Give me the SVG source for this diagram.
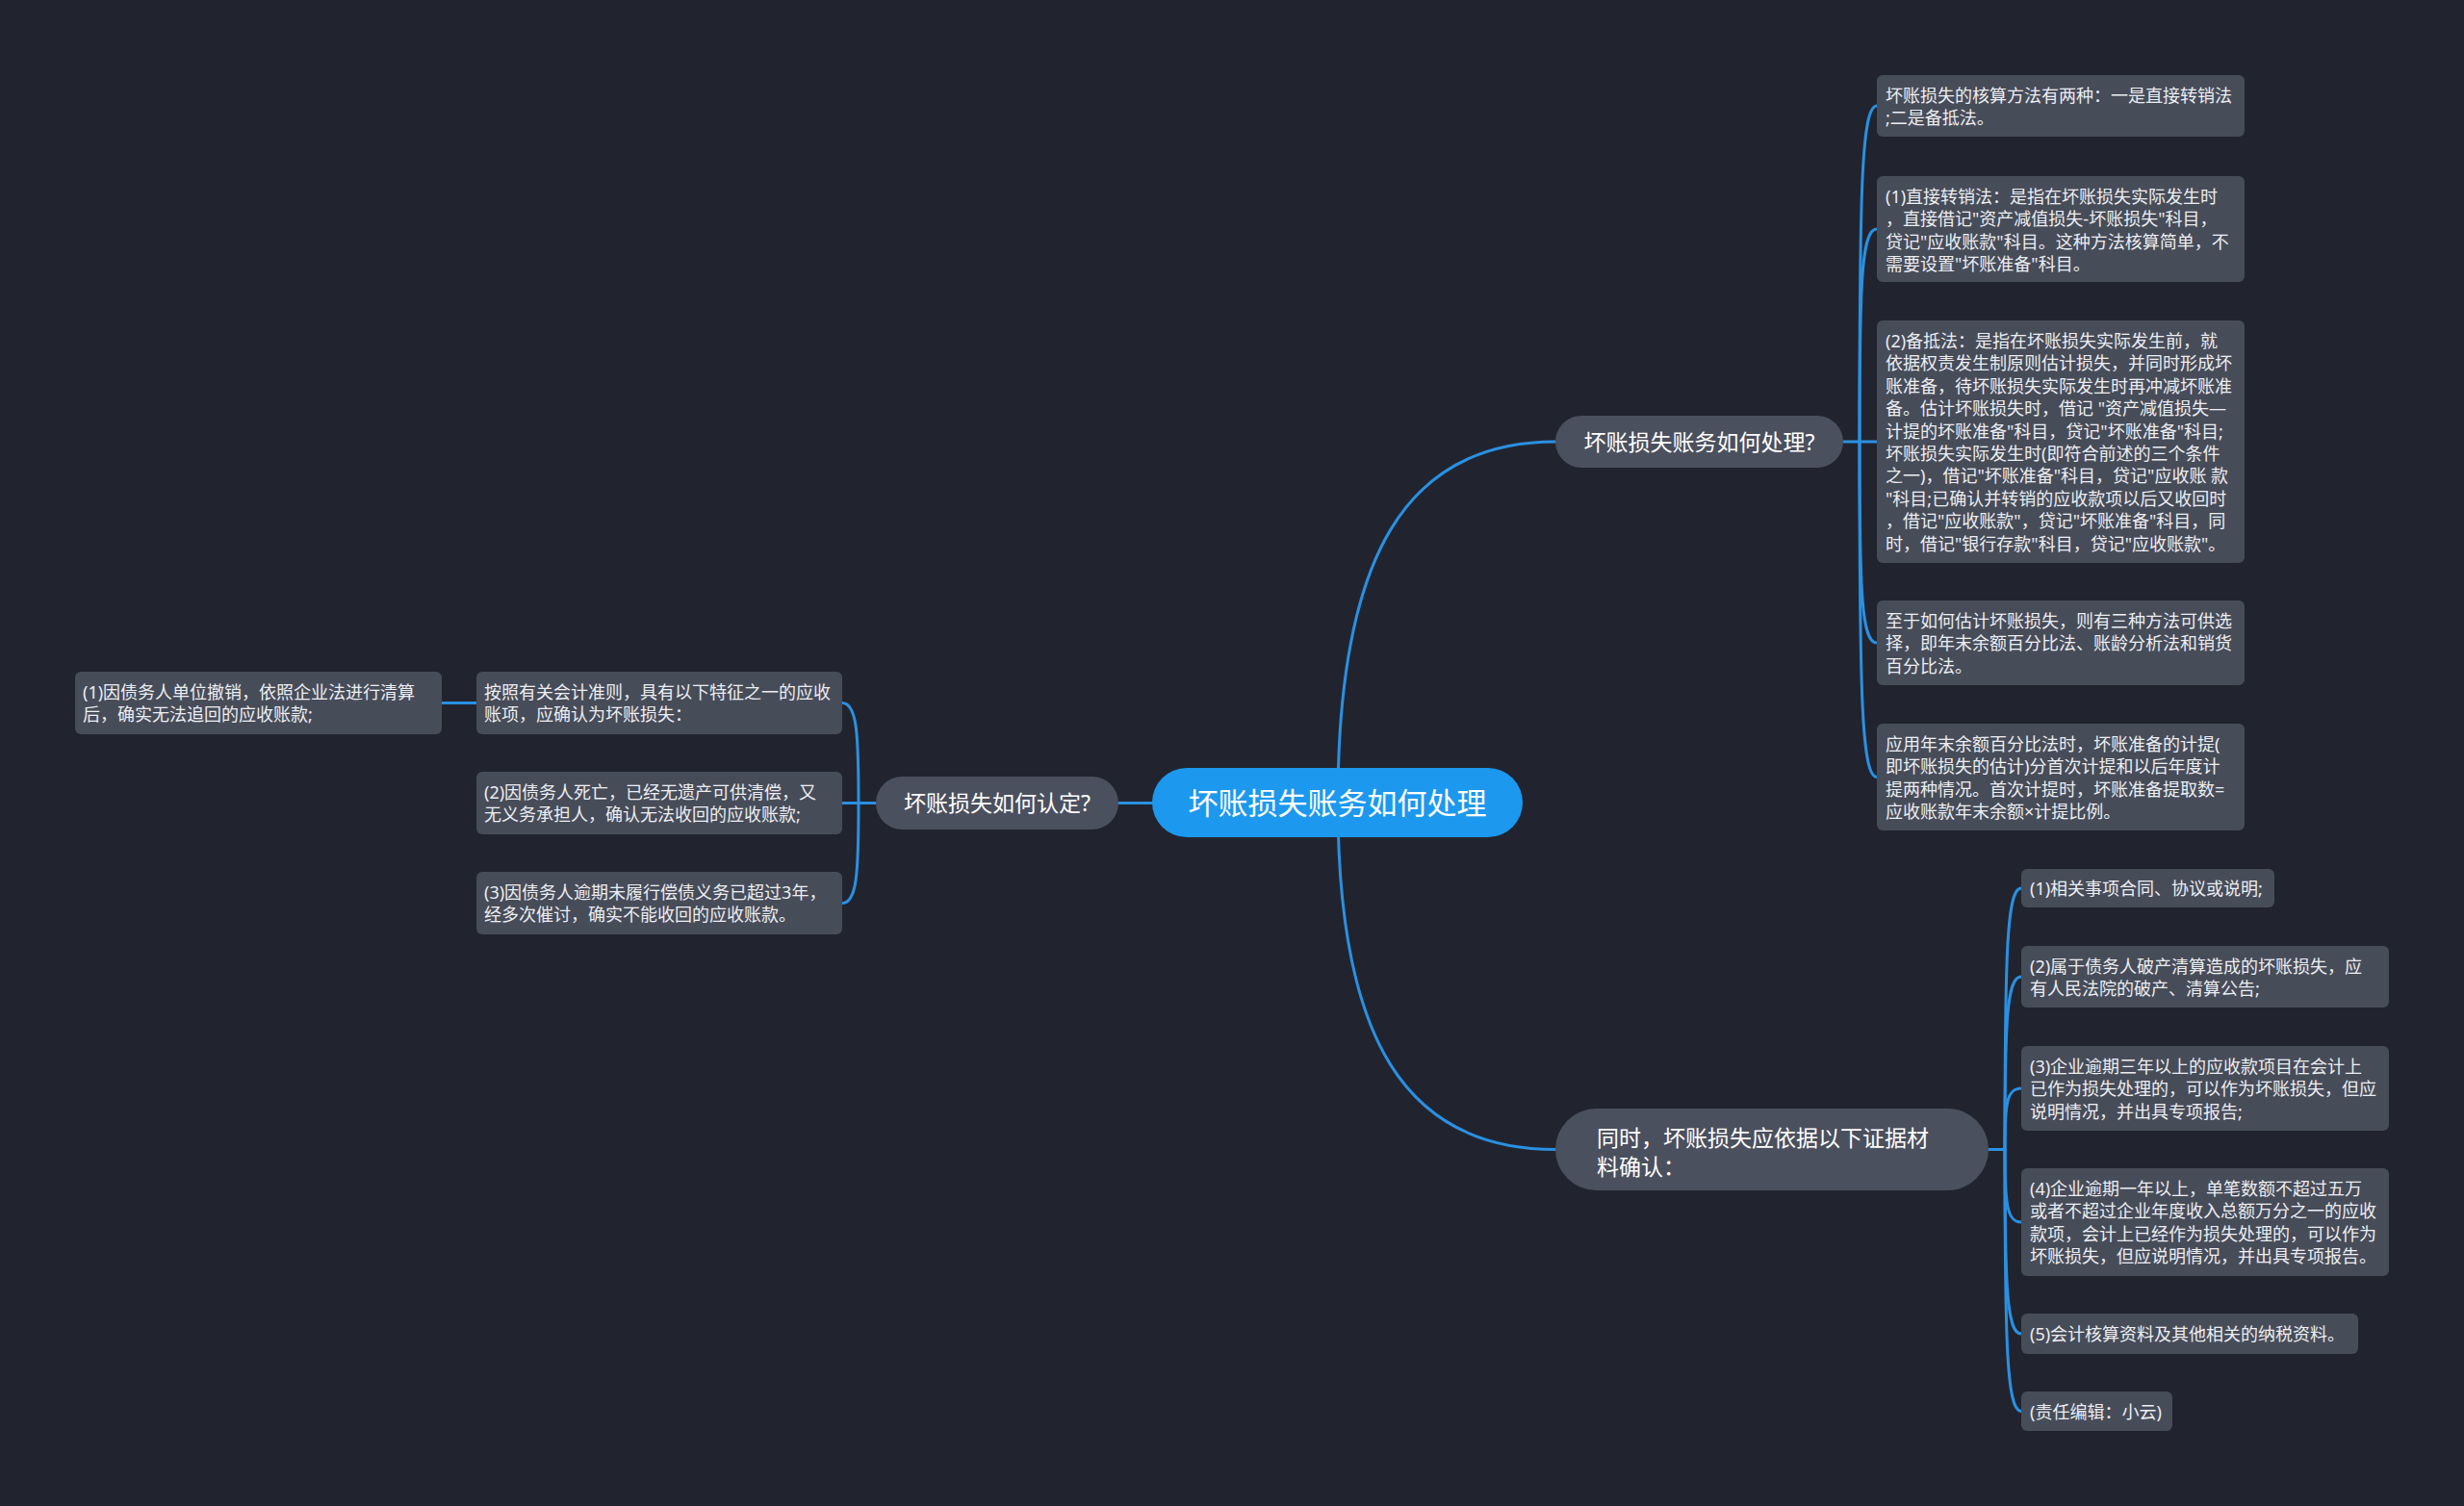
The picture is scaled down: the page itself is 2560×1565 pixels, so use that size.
<svg xmlns="http://www.w3.org/2000/svg" width="2560" height="1565" viewBox="0 0 2560 1565">
<style>
.bg{fill:#21242e}
.root{fill:#1c98ef}
.sub{fill:#4b505e}
.leaf{fill:#474c59}
.ln{fill:none;stroke:#2a90e2;stroke-width:3;stroke-linecap:round}
.t{font-family:"Noto Sans","Noto Sans CJK SC",sans-serif;fill:#ffffff}
.rt{font-size:31px}
.st{font-size:23px}
.lt{font-size:18px;fill:#eceef2}
</style>
<rect class="bg" x="0" y="0" width="2560" height="1565"/>
<g id="connectors">
<path class="ln" d="M1197,834.5 L1162,834.5"/>
<path class="ln" d="M1390,834 C1390,579 1460,459 1616,459"/>
<path class="ln" d="M1390,834 C1390,1079 1460,1194.5 1616,1194.5"/>
<path class="ln" d="M910,834.5 L892,834.5"/>
<path class="ln" d="M892,834.5 C892,760 890,730.5 875,730.5"/>
<path class="ln" d="M892,834.5 L875,834.5"/>
<path class="ln" d="M892,834.5 C892,909 890,938.5 875,938.5"/>
<path class="ln" d="M495,730.5 L459,730.5"/>
<path class="ln" d="M1915,459 L1950,459"/>
<path class="ln" d="M1932,459 C1932,197 1934,110 1950,110"/>
<path class="ln" d="M1932,459 C1932,293 1934,238 1950,238"/>
<path class="ln" d="M1932,459 C1932,616 1934,668 1950,668"/>
<path class="ln" d="M1932,459 C1932,720 1934,807.5 1950,807.5"/>
<path class="ln" d="M2066,1194.5 L2083,1194.5"/>
<path class="ln" d="M2083,1194.5 C2083,991 2085,923 2100,923"/>
<path class="ln" d="M2083,1194.5 C2083,1060 2085,1015 2100,1015"/>
<path class="ln" d="M2083,1194.5 C2083,1146 2085,1131 2100,1131"/>
<path class="ln" d="M2083,1194.5 C2083,1251 2085,1270 2100,1270"/>
<path class="ln" d="M2083,1194.5 C2083,1339 2085,1386 2100,1386"/>
<path class="ln" d="M2083,1194.5 C2083,1399 2085,1466.5 2100,1466.5"/>
</g>
<g id="root">
<rect class="root" x="1197" y="798" width="385" height="72" rx="36"/>
<text class="t rt" x="1389.5" y="846" text-anchor="middle">坏账损失账务如何处理</text>
</g>
<g id="n-rendi">
<rect class="sub" x="910" y="807" width="252" height="55" rx="27.5"/>
<text class="t st" x="1036" y="843" text-anchor="middle">坏账损失如何认定?</text>
</g>
<g id="n-chuli">
<rect class="sub" x="1616" y="432" width="299" height="54" rx="27"/>
<text class="t st" x="1765.5" y="467.5" text-anchor="middle">坏账损失账务如何处理?</text>
</g>
<g id="n-zhengju">
<rect class="sub" x="1616" y="1152" width="450" height="85" rx="42.5"/>
<text class="t st"><tspan x="1659" y="1191">同时，坏账损失应依据以下证据材</tspan><tspan x="1659" y="1221">料确认：</tspan></text>
</g>
<g id="l-a1">
<rect class="leaf" x="495" y="698" width="380" height="65" rx="6"/>
<text class="t lt"><tspan x="503" y="726">按照有关会计准则，具有以下特征之一的应收</tspan><tspan x="503" y="749.4">账项，应确认为坏账损失：</tspan></text>
</g>
<g id="l-a1-1">
<rect class="leaf" x="78" y="698" width="381" height="65" rx="6"/>
<text class="t lt"><tspan x="86" y="726">(1)因债务人单位撤销，依照企业法进行清算</tspan><tspan x="86" y="749.4">后，确实无法追回的应收账款;</tspan></text>
</g>
<g id="l-a2">
<rect class="leaf" x="495" y="802" width="380" height="65" rx="6"/>
<text class="t lt"><tspan x="503" y="830">(2)因债务人死亡，已经无遗产可供清偿，又</tspan><tspan x="503" y="853.4">无义务承担人，确认无法收回的应收账款;</tspan></text>
</g>
<g id="l-a3">
<rect class="leaf" x="495" y="906" width="380" height="65" rx="6"/>
<text class="t lt"><tspan x="503" y="934">(3)因债务人逾期未履行偿债义务已超过3年，</tspan><tspan x="503" y="957.4">经多次催讨，确实不能收回的应收账款。</tspan></text>
</g>
<g id="l-b1">
<rect class="leaf" x="1950" y="78" width="382" height="64" rx="6"/>
<text class="t lt"><tspan x="1959" y="106">坏账损失的核算方法有两种：一是直接转销法</tspan><tspan x="1959" y="129.4">;二是备抵法。</tspan></text>
</g>
<g id="l-b2">
<rect class="leaf" x="1950" y="183" width="382" height="110" rx="6"/>
<text class="t lt"><tspan x="1959" y="211">(1)直接转销法：是指在坏账损失实际发生时</tspan><tspan x="1959" y="234.4">，直接借记"资产减值损失-坏账损失"科目，</tspan><tspan x="1959" y="257.8">贷记"应收账款"科目。这种方法核算简单，不</tspan><tspan x="1959" y="281.2">需要设置"坏账准备"科目。</tspan></text>
</g>
<g id="l-b3">
<rect class="leaf" x="1950" y="333" width="382" height="252" rx="6"/>
<text class="t lt"><tspan x="1959" y="361">(2)备抵法：是指在坏账损失实际发生前，就</tspan><tspan x="1959" y="384.4">依据权责发生制原则估计损失，并同时形成坏</tspan><tspan x="1959" y="407.8">账准备，待坏账损失实际发生时再冲减坏账准</tspan><tspan x="1959" y="431.2">备。估计坏账损失时，借记 "资产减值损失—</tspan><tspan x="1959" y="454.6">计提的坏账准备"科目，贷记"坏账准备"科目;</tspan><tspan x="1959" y="478">坏账损失实际发生时(即符合前述的三个条件</tspan><tspan x="1959" y="501.4">之一)，借记"坏账准备"科目，贷记"应收账 款</tspan><tspan x="1959" y="524.8">"科目;已确认并转销的应收款项以后又收回时</tspan><tspan x="1959" y="548.2">，借记"应收账款"，贷记"坏账准备"科目，同</tspan><tspan x="1959" y="571.6">时，借记"银行存款"科目，贷记"应收账款"。</tspan></text>
</g>
<g id="l-b4">
<rect class="leaf" x="1950" y="624" width="382" height="88" rx="6"/>
<text class="t lt"><tspan x="1959" y="652">至于如何估计坏账损失，则有三种方法可供选</tspan><tspan x="1959" y="675.4">择，即年末余额百分比法、账龄分析法和销货</tspan><tspan x="1959" y="698.8">百分比法。</tspan></text>
</g>
<g id="l-b5">
<rect class="leaf" x="1950" y="752" width="382" height="111" rx="6"/>
<text class="t lt"><tspan x="1959" y="780">应用年末余额百分比法时，坏账准备的计提(</tspan><tspan x="1959" y="803.4">即坏账损失的估计)分首次计提和以后年度计</tspan><tspan x="1959" y="826.8">提两种情况。首次计提时，坏账准备提取数=</tspan><tspan x="1959" y="850.2">应收账款年末余额×计提比例。</tspan></text>
</g>
<g id="l-c1">
<rect class="leaf" x="2100" y="903" width="263" height="40" rx="6"/>
<text class="t lt"><tspan x="2109" y="930">(1)相关事项合同、协议或说明;</tspan></text>
</g>
<g id="l-c2">
<rect class="leaf" x="2100" y="983" width="382" height="64" rx="6"/>
<text class="t lt"><tspan x="2109" y="1011">(2)属于债务人破产清算造成的坏账损失，应</tspan><tspan x="2109" y="1034.4">有人民法院的破产、清算公告;</tspan></text>
</g>
<g id="l-c3">
<rect class="leaf" x="2100" y="1087" width="382" height="88" rx="6"/>
<text class="t lt"><tspan x="2109" y="1115">(3)企业逾期三年以上的应收款项目在会计上</tspan><tspan x="2109" y="1138.4">已作为损失处理的，可以作为坏账损失，但应</tspan><tspan x="2109" y="1161.8">说明情况，并出具专项报告;</tspan></text>
</g>
<g id="l-c4">
<rect class="leaf" x="2100" y="1214" width="382" height="112" rx="6"/>
<text class="t lt"><tspan x="2109" y="1242">(4)企业逾期一年以上，单笔数额不超过五万</tspan><tspan x="2109" y="1265.4">或者不超过企业年度收入总额万分之一的应收</tspan><tspan x="2109" y="1288.8">款项，会计上已经作为损失处理的，可以作为</tspan><tspan x="2109" y="1312.2">坏账损失，但应说明情况，并出具专项报告。</tspan></text>
</g>
<g id="l-c5">
<rect class="leaf" x="2100" y="1365" width="350" height="42" rx="6"/>
<text class="t lt"><tspan x="2109" y="1393">(5)会计核算资料及其他相关的纳税资料。</tspan></text>
</g>
<g id="l-c6">
<rect class="leaf" x="2100" y="1446" width="157" height="41" rx="6"/>
<text class="t lt"><tspan x="2109" y="1473.5">(责任编辑：小云)</tspan></text>
</g>
</svg>
